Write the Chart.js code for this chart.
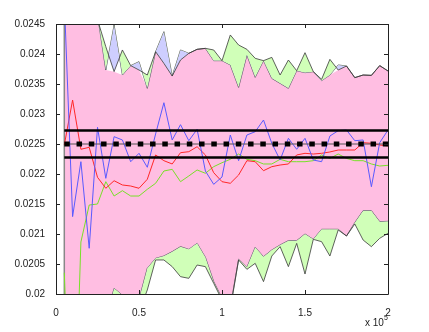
<!DOCTYPE html>
<html><head><meta charset="utf-8">
<script src="https://cdn.jsdelivr.net/npm/chart.js@4/dist/chart.umd.min.js"></script>
<style>html,body{margin:0;padding:0;background:#fff;}#wrap{width:429px;height:332px;}</style>
</head><body><div id="wrap"><canvas id="c" width="429" height="332"></canvas></div>
<script>
const sampleSizes = [5000,10000,15000,20000,25000,30000,35000,40000,45000,50000,
  55000,60000,65000,70000,75000,80000,85000,90000,95000,100000,
  105000,110000,115000,120000,125000,130000,135000,140000,145000,150000,
  155000,160000,165000,170000,175000,180000,185000,190000,195000,200000];

const redEstimate = [0.022483,0.023233,0.022412,0.022445,0.021945,0.021762,0.021888,0.021817,0.0218,0.021762,
  0.021912,0.022317,0.022222,0.022167,0.022355,0.022372,0.022455,0.022317,0.022022,0.021872,
  0.021845,0.021983,0.022222,0.022205,0.022055,0.022122,0.02215,0.022167,0.022317,0.022345,
  0.022333,0.022345,0.022367,0.0224,0.0224,0.0224,0.022522,0.022512,0.022483,0.022467];

const greenEstimate = [0.020355,0.0166,0.020867,0.021483,0.0215,0.021872,0.021633,0.021722,0.021633,0.021633,
  0.021745,0.021845,0.02205,0.022078,0.021872,0.021967,0.022067,0.022012,0.022122,0.022188,
  0.022245,0.022333,0.022245,0.022222,0.022167,0.022167,0.022245,0.022205,0.022205,0.022205,
  0.022222,0.022317,0.02226,0.022333,0.02226,0.022222,0.022222,0.022167,0.022133,0.022145];

const blueEstimate = [0.0249,0.02129,0.022205,0.020762,0.022778,0.021928,0.022622,0.022567,0.022205,0.022345,
  0.022112,0.022667,0.023188,0.022567,0.022822,0.022555,0.022745,0.02205,0.021828,0.02195,
  0.02265,0.022222,0.02265,0.022705,0.0229,0.022512,0.022233,0.022595,0.022412,0.022595,
  0.022233,0.022205,0.022633,0.022722,0.022733,0.022555,0.022567,0.021788,0.022522,0.022733];

const greenUpper = [0.0300,0.0275,0.0262,0.0254,0.024572,0.024122,0.023706,0.024067,0.023806,0.023733,
  0.02365,0.024039,0.023844,0.023633,0.0239,0.024011,0.024078,0.024094,0.024067,0.023889,
  0.024317,0.02415,0.024078,0.023928,0.023889,0.023944,0.02365,0.0239,0.023722,0.024022,
  0.023706,0.023578,0.023911,0.023733,0.0238,0.023606,0.02365,0.023644,0.023806,0.023717];

const blueUpper = [0.0302,0.0278,0.0265,0.0256,0.024646,0.023733,0.024483,0.02365,0.023806,0.023872,
  0.023428,0.024039,0.024372,0.023633,0.024067,0.024011,0.024078,0.024094,0.023889,0.023889,
  0.023817,0.023444,0.023983,0.023611,0.023889,0.023594,0.023511,0.023428,0.023722,0.023689,
  0.023706,0.023556,0.02365,0.023817,0.0238,0.023606,0.02365,0.023644,0.023806,0.023717];

const greenLower = [0.0140,0.0158,0.0170,0.0178,0.0185,0.0190,0.0193,0.0194,0.0195,0.0197,
  0.020067,0.020567,0.020567,0.020456,0.020289,0.020261,0.020483,0.020456,0.020178,0.0199,
  0.01975,0.020567,0.020411,0.020511,0.020206,0.020633,0.020789,0.020456,0.020844,0.020333,
  0.020911,0.020872,0.020633,0.021067,0.020967,0.021167,0.0209,0.020789,0.020928,0.021011];

const blueLower = [0.0142,0.0165,0.0175,0.0183,0.0190,0.0196,0.020094,0.01998,0.0197,0.01991,
  0.020428,0.020594,0.020633,0.020706,0.020789,0.020744,0.020844,0.020611,0.020206,0.01993,
  0.01978,0.020578,0.020444,0.020778,0.020622,0.020733,0.020817,0.020889,0.020889,0.021,
  0.020911,0.021078,0.021078,0.021078,0.020967,0.021189,0.021389,0.021389,0.021206,0.021211];

const trueValue = 0.0225;
const toleranceBand = [0.022275, 0.022725];
const xTickValues = [0, 50000, 100000, 150000, 200000];
const xTickLabels = ["0", "0.5", "1", "1.5", "2"];
const yTickLabels = ["0.02","0.0205","0.021","0.0215","0.022","0.0225","0.023","0.0235","0.024","0.0245"];

const pts = arr => arr.map((v, i) => ({x: sampleSizes[i], y: v}));
const innerTop = greenUpper.map((v, i) => Math.min(v, blueUpper[i]));
const innerBottom = greenLower.map((v, i) => Math.max(v, blueLower[i]));
const flat = v => [{x: sampleSizes[0], y: v}, {x: sampleSizes[sampleSizes.length - 1], y: v}];

const PINK = 'rgb(255,190,226)';
const LGREEN = 'rgb(208,255,184)';
const LBLUE = 'rgb(206,206,255)';
const OUTLINE = '#3a3a3a';

const base = {pointRadius: 0, tension: 0, borderWidth: 1, fill: false};

const datasets = [
  {...base, data: pts(innerTop), borderWidth: 0, fill: {target: '+1'}, backgroundColor: PINK, order: 20},
  {...base, data: pts(innerBottom), borderWidth: 0, order: 20},
  {...base, data: pts(greenUpper), borderColor: OUTLINE, borderWidth: 0.8,
    fill: {target: '+1', above: LGREEN, below: LBLUE}, order: 15},
  {...base, data: pts(blueUpper), borderColor: OUTLINE, borderWidth: 0.8, order: 15},
  {...base, data: pts(greenLower), borderColor: OUTLINE, borderWidth: 0.8,
    fill: {target: '+1', above: LBLUE, below: LGREEN}, order: 15},
  {...base, data: pts(blueLower), borderColor: OUTLINE, borderWidth: 0.8, order: 15},
  {...base, data: [{x: sampleSizes[0], y: Math.max(greenUpper[0], blueUpper[0])}, {x: sampleSizes[0], y: Math.min(greenLower[0], blueLower[0])}],
    borderColor: '#888', borderWidth: 1.5, order: 14},
  {...base, data: pts(redEstimate), borderColor: 'rgb(255,40,40)', order: 6},
  {...base, data: pts(greenEstimate), borderColor: 'rgb(120,225,40)', order: 6},
  {...base, data: pts(blueEstimate), borderColor: 'rgb(90,90,255)', order: 5},
  {...base, data: flat(toleranceBand[1]), borderColor: '#000', borderWidth: 2.5, order: 3},
  {...base, data: flat(toleranceBand[0]), borderColor: '#000', borderWidth: 2.5, order: 3},
  {...base, data: flat(trueValue), borderColor: '#555', borderWidth: 1, order: 2},
  {...base, data: flat(trueValue), borderColor: '#000', borderWidth: 5, borderDash: [5.5, 6.75], borderCapStyle: 'butt', order: 1}
];

const FONT = {family: "'Liberation Sans', Arial, sans-serif", size: 10};

const boxPlugin = {
  id: 'box',
  afterDatasetsDraw(chart) {
    const {ctx, chartArea: a, scales} = chart;
    ctx.save();
    ctx.strokeStyle = '#222';
    ctx.lineWidth = 1;
    ctx.beginPath();
    ctx.rect(Math.round(a.left) + 0.5, Math.round(a.top) + 0.5, Math.round(a.right - a.left), Math.round(a.bottom - a.top));
    ctx.stroke();
    const L = 4;
    ctx.beginPath();
    xTickValues.forEach(v => {
      const x = Math.round(scales.x.getPixelForValue(v)) + 0.5;
      ctx.moveTo(x, a.bottom); ctx.lineTo(x, a.bottom - L);
      ctx.moveTo(x, a.top); ctx.lineTo(x, a.top + L);
    });
    yTickLabels.forEach(t => {
      const y = Math.round(scales.y.getPixelForValue(parseFloat(t))) + 0.5;
      ctx.moveTo(a.left, y); ctx.lineTo(a.left + L, y);
      ctx.moveTo(a.right, y); ctx.lineTo(a.right - L, y);
    });
    ctx.stroke();
    ctx.fillStyle = '#222';
    ctx.font = "10px 'Liberation Sans', Arial, sans-serif";
    ctx.textBaseline = 'alphabetic';
    ctx.textAlign = 'left';
    ctx.fillText('x 10', 365, 326);
    ctx.font = "7px 'Liberation Sans', Arial, sans-serif";
    ctx.fillText('5', 384, 320);
    ctx.restore();
  }
};

new Chart(document.getElementById('c'), {
  type: 'line',
  data: {datasets},
  options: {
    responsive: false,
    animation: false,
    events: [],
    layout: {padding: {left: 0, right: 41, top: 24, bottom: 0}},
    plugins: {legend: {display: false}, tooltip: {enabled: false}},
    scales: {
      x: {
        type: 'linear', min: 0, max: 200000,
        afterBuildTicks: s => { s.ticks = xTickValues.map(v => ({value: v})); },
        afterFit: s => { s.height = 38; },
        grid: {display: false}, border: {display: false},
        ticks: {font: FONT, color: '#222', padding: 5, maxRotation: 0,
          callback: (v) => xTickLabels[xTickValues.indexOf(v)]}
      },
      y: {
        type: 'linear', min: 0.02, max: 0.0245,
        afterBuildTicks: s => { s.ticks = yTickLabels.map(t => ({value: parseFloat(t)})); },
        afterFit: s => { s.width = 56; },
        grid: {display: false}, border: {display: false},
        ticks: {font: FONT, color: '#222', padding: 3,
          callback: (v) => { const i = yTickLabels.findIndex(t => Math.abs(parseFloat(t) - v) < 1e-9); return i >= 0 ? yTickLabels[i] : ''; }}
      }
    }
  },
  plugins: [boxPlugin]
});
</script>
</body></html>
